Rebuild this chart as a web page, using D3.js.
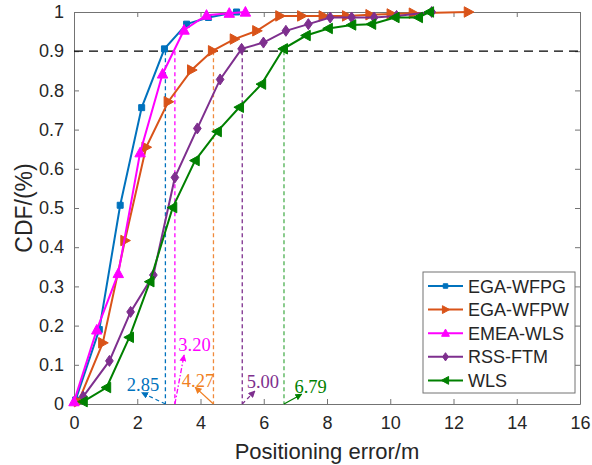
<!DOCTYPE html>
<html>
<head>
<meta charset="utf-8">
<script src="https://cdn.jsdelivr.net/npm/d3@7"></script>
<style>
  body { margin: 0; background: #fff; }
  svg { font-family: "Liberation Sans", Arial, sans-serif; }
</style>
</head>
<body>
<svg id="chart" width="592" height="465"></svg>
<script>
// series data (x = positioning error in m, y = CDF)
const seriesNames = ["EGA-WFPG", "EGA-WFPW", "EMEA-WLS", "RSS-FTM", "WLS"];
const colors = ["#0072BD", "#D95319", "#FF00FF", "#7E2F8E", "#008000"];
const markers = ["square", "right", "up", "diamond", "left"];

const wfpgX = [0.05, 0.8, 1.46, 2.14, 2.86, 3.56, 4.25, 5.14];
const wfpgY = [0.01, 0.19, 0.507, 0.756, 0.906, 0.969, 0.986, 1.0];
const wfpwX = [0.14, 0.91, 1.61, 2.28, 2.98, 3.72, 4.38, 5.07, 5.78, 6.51, 7.2, 7.88, 8.62, 9.36, 10.03, 10.73, 12.47];
const wfpwY = [0.006, 0.156, 0.417, 0.655, 0.771, 0.852, 0.901, 0.931, 0.952, 0.99, 0.99, 0.99, 0.99, 0.993, 0.995, 0.997, 1.0];
const emeaX = [0, 0.72, 1.40, 2.09, 2.80, 3.48, 4.19, 4.91, 5.42];
const emeaY = [0.006, 0.189, 0.333, 0.641, 0.842, 0.954, 0.992, 0.997, 1.0];
const rssX = [0.29, 1.12, 1.79, 2.51, 3.19, 3.90, 4.62, 5.30, 5.99, 6.70, 7.41, 8.10, 8.78, 9.49, 10.2, 11.31];
const rssY = [0.019, 0.11, 0.235, 0.329, 0.578, 0.703, 0.828, 0.906, 0.922, 0.952, 0.969, 0.986, 0.986, 0.986, 0.99, 1.0];
const wlsX = [0.29, 1.03, 1.75, 2.40, 3.12, 3.83, 4.53, 5.23, 5.93, 6.62, 7.34, 8.04, 8.78, 9.41, 10.15, 10.89, 11.24];
const wlsY = [0.006, 0.042, 0.17, 0.312, 0.501, 0.621, 0.695, 0.757, 0.816, 0.906, 0.940, 0.958, 0.967, 0.969, 0.986, 0.986, 1.0];

// 90% crossing points and their labels
const crossX = [2.89, 3.19, 4.41, 5.32, 6.64];
const crossLabels = ["2.85", "3.20", "4.27", "5.00", "6.79"];
const crossColors = ["#0072BD", "#FF00FF", "#F08A3C", "#7E2F8E", "#4CAF50"];
const labelColors = ["#0072BD", "#FF00FF", "#F07F22", "#7E2F8E", "#008000"];
const arrowHeadX = [2.14, 3.48, 3.83, 5.72, 7.2];
const arrowHeadY = [0.029, 0.125, 0.043, 0.033, 0.025];
const labelX = [1.67, 3.30, 3.41, 5.46, 6.97];
const labelY = [0.033, 0.135, 0.044, 0.041, 0.029];
const arrowDash = ["4,3", "5,2,1.5,2", null, "4,3", null];

const xTicks = [0, 2, 4, 6, 8, 10, 12, 14, 16];
const yTicks = [0, 0.1, 0.2, 0.3, 0.4, 0.5, 0.6, 0.7, 0.8, 0.9, 1];

const allX = [wfpgX, wfpwX, emeaX, rssX, wlsX];
const allY = [wfpgY, wfpwY, emeaY, rssY, wlsY];

const svg = d3.select("#chart");
const m = {left: 74, right: 580, top: 12, bottom: 404};
const x = d3.scaleLinear().domain([0, 16]).range([m.left, m.right]);
const y = d3.scaleLinear().domain([0, 1]).range([m.bottom, m.top]);
const axisCol = "#737373", textCol = "#262626";

// axes with inward ticks
const fmtY = d => d === 0 || d === 1 ? String(d) : d.toFixed(1);
svg.append("g").attr("transform", `translate(0,${m.bottom})`)
  .call(d3.axisBottom(x).tickValues(xTicks).tickSizeInner(-5).tickSizeOuter(0).tickPadding(12))
  .call(g => g.selectAll("text").attr("font-size", 18).attr("fill", textCol));
svg.append("g").attr("transform", `translate(0,${m.top})`)
  .call(d3.axisTop(x).tickValues(xTicks).tickSizeInner(-5).tickSizeOuter(0).tickFormat(""));
svg.append("g").attr("transform", `translate(${m.left},0)`)
  .call(d3.axisLeft(y).tickValues(yTicks).tickSizeInner(-5).tickSizeOuter(0).tickPadding(10).tickFormat(fmtY))
  .call(g => g.selectAll("text").attr("font-size", 18).attr("fill", textCol));
svg.append("g").attr("transform", `translate(${m.right},0)`)
  .call(d3.axisRight(y).tickValues(yTicks).tickSizeInner(-5).tickSizeOuter(0).tickFormat(""));
svg.selectAll(".domain").attr("stroke", axisCol);
svg.selectAll(".tick line").attr("stroke", axisCol);

// 0.9 reference line
svg.append("line")
  .attr("x1", x(0)).attr("x2", x(16)).attr("y1", y(0.9)).attr("y2", y(0.9))
  .attr("stroke", "#000").attr("stroke-width", 1.3).attr("stroke-dasharray", "9,6");

// vertical dashed lines at crossings
crossX.forEach((cx, i) => {
  svg.append("line")
    .attr("x1", x(cx)).attr("x2", x(cx)).attr("y1", y(0.9)).attr("y2", y(0))
    .attr("stroke", crossColors[i]).attr("stroke-width", 1.3).attr("stroke-dasharray", "4,3");
});

// marker shapes
function markerPath(kind, s) {
  if (kind === "square") return `M${-s*0.6},${-s*0.6}H${s*0.6}V${s*0.6}H${-s*0.6}Z`;
  if (kind === "up") return `M0,${-s}L${s*0.95},${s*0.75}L${-s*0.95},${s*0.75}Z`;
  if (kind === "right") return `M${s},0L${-s*0.75},${s*0.95}L${-s*0.75},${-s*0.95}Z`;
  if (kind === "left") return `M${-s},0L${s*0.75},${s*0.95}L${s*0.75},${-s*0.95}Z`;
  return `M0,${-s}L${s*0.7},0L0,${s}L${-s*0.7},0Z`;
}
const markerSize = [5, 5.5, 5.5, 5.5, 5.5];

const line = d3.line().x(d => x(d[0])).y(d => y(d[1]));
seriesNames.forEach((name, i) => {
  const pts = allX[i].map((v, j) => [v, allY[i][j]]);
  svg.append("path").datum(pts)
    .attr("d", line).attr("fill", "none")
    .attr("stroke", colors[i]).attr("stroke-width", 2);
  svg.append("g").selectAll("path").data(pts).join("path")
    .attr("transform", d => `translate(${x(d[0])},${y(d[1])})`)
    .attr("d", markerPath(markers[i], markerSize[i]))
    .attr("fill", colors[i]).attr("stroke", colors[i]);
});

// arrows and labels
const defs = svg.append("defs");
labelColors.forEach((c, i) => {
  defs.append("marker").attr("id", "ah" + i)
    .attr("viewBox", "0 0 10 10").attr("refX", 9).attr("refY", 5)
    .attr("markerWidth", 7).attr("markerHeight", 7).attr("orient", "auto")
    .attr("markerUnits", "userSpaceOnUse")
    .append("path").attr("d", "M0,0L10,5L0,10Z").attr("fill", c);
});
crossX.forEach((cx, i) => {
  const a = svg.append("line")
    .attr("x1", x(cx)).attr("y1", y(0))
    .attr("x2", x(arrowHeadX[i])).attr("y2", y(arrowHeadY[i]))
    .attr("stroke", labelColors[i]).attr("stroke-width", 1.3)
    .attr("marker-end", `url(#ah${i})`);
  if (arrowDash[i]) a.attr("stroke-dasharray", arrowDash[i]);
  svg.append("text")
    .attr("x", x(labelX[i])).attr("y", y(labelY[i]))
    .attr("font-family", "'Liberation Serif', 'Times New Roman', serif")
    .attr("font-size", 18.5).attr("fill", labelColors[i])
    .text(crossLabels[i]);
});

// axis titles
svg.append("text").attr("x", (m.left + m.right) / 2).attr("y", 459)
  .attr("text-anchor", "middle").attr("font-size", 22).attr("fill", textCol)
  .text("Positioning error/m");
svg.append("text").attr("transform", `translate(32,${(m.top + m.bottom) / 2}) rotate(-90)`)
  .attr("text-anchor", "middle").attr("font-size", 23).attr("fill", textCol)
  .text("CDF/(%)");

// legend
const lg = svg.append("g").attr("transform", "translate(423,272)");
lg.append("rect").attr("width", 152).attr("height", 121)
  .attr("fill", "#fff").attr("stroke", axisCol).attr("stroke-width", 1);
seriesNames.forEach((name, i) => {
  const ly = 14 + i * 23.6;
  lg.append("line").attr("x1", 5).attr("x2", 40).attr("y1", ly).attr("y2", ly)
    .attr("stroke", colors[i]).attr("stroke-width", 2);
  lg.append("path").attr("transform", `translate(22.5,${ly})`)
    .attr("d", markerPath(markers[i], markerSize[i] * 0.75))
    .attr("fill", colors[i]).attr("stroke", colors[i]);
  lg.append("text").attr("x", 45).attr("y", ly + 6.5)
    .attr("font-size", 18).attr("fill", textCol).text(name);
});
</script>
</body>
</html>
